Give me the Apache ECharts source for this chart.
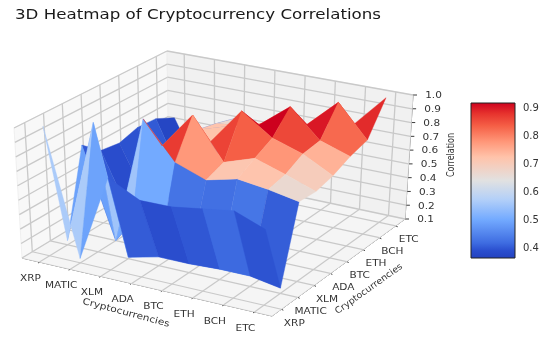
<!DOCTYPE html>
<html><head><meta charset="utf-8">
<style>html,body{margin:0;padding:0;background:#fff}#c{width:550px;height:338px}#c canvas{filter:blur(0.35px)}</style>
<script src="https://cdn.jsdelivr.net/npm/echarts@6/dist/echarts.min.js"></script>
</head><body><div id="c"></div>
<script>
const categories = ['XRP','MATIC','XLM','ADA','BTC','ETH','BCH','ETC'];
const zTicks = [0.1,0.2,0.3,0.4,0.5,0.6,0.7,0.8,0.9,1.0];
const colorTicks = [0.4,0.5,0.6,0.7,0.8,0.9];
const rowXRP   = [1.00,0.13,0.73,0.62,0.62,0.65,0.68,0.60];
const rowMATIC = [0.13,1.00,0.11,0.16,0.16,0.17,0.17,0.135];
const rowXLM   = [0.73,0.10,1.00,0.74,0.66,0.71,0.68,0.64];
const rowADA   = [0.62,0.16,0.74,1.00,0.71,0.78,0.71,0.635];
const rowBTC   = [0.60,0.17,0.66,0.74,1.00,0.85,0.78,0.67];
const rowETH   = [0.64,0.17,0.71,0.78,0.83,1.00,0.80,0.73];
const rowBCH   = [0.63,0.17,0.68,0.71,0.78,0.80,1.00,0.77];
const rowETC   = [0.56,0.135,0.64,0.635,0.67,0.73,0.77,1.00];
const matrix = [rowXRP,rowMATIC,rowXLM,rowADA,rowBTC,rowETH,rowBCH,rowETC];
const colorMin = 0.364, colorMax = 0.918;

const rampStops = [0,0.05,0.1,0.25,0.38,0.5,0.65,0.75,0.85,0.93,1];
const rampColors = [[35,65,190],[42,78,206],[62,108,225],[115,170,255],[180,208,248],[225,225,225],[255,195,170],[255,150,120],[245,95,70],[230,50,45],[205,0,30]];
function cmap(t){t=Math.max(0,Math.min(1,t));let k=0;while(k<rampStops.length-2&&t>rampStops[k+1])k++;
  const f=(t-rampStops[k])/(rampStops[k+1]-rampStops[k]);
  const c=rampColors[k].map((v,n)=>Math.round(v+(rampColors[k+1][n]-v)*f));return `rgb(${c[0]},${c[1]},${c[2]})`;}

// The 3D box, as it sits on the page: bottom and top corners
const box = {L:[22,258],B:[272,316],R:[405,219],K:[169,169],TL:[14,128],TB:[275,178],TR:[413,95],TK:[167,51]};
const zLo = 0.1, zHi = 1.0, inset = 0.07;
const lerp=(a,b,t)=>[a[0]+(b[0]-a[0])*t,a[1]+(b[1]-a[1])*t];
function proj(u,v,w){
  const f=lerp(lerp(box.L,box.B,u),lerp(box.K,box.R,u),v);
  const t=lerp(lerp(box.TL,box.TB,u),lerp(box.TK,box.TR,u),v);
  return lerp(f,t,w);
}
const ui=i=>inset+(1-2*inset)*i/(categories.length-1);
const wz=z=>(z-zLo)/(zHi-zLo);
const depth=(u,v,w)=>u*0.433-v*0.75+w*0.375;

// Faces in far-to-near order
const faces=[];
for(let j=0;j<7;j++)for(let i=0;i<7;i++){
  const zs=[matrix[j][i],matrix[j][i+1],matrix[j+1][i+1],matrix[j+1][i]];
  const avg=zs.reduce((a,b)=>a+b)/4;
  const d=depth(ui(i+.5),ui(j+.5),wz(avg));
  faces.push([i,j,avg,d]);
}
faces.sort((a,b)=>a[3]-b[3]);

function faceItem(params,api){
  const i=api.value(0),j=api.value(1),avg=api.value(2);
  const pts=[[i,j],[i+1,j],[i+1,j+1],[i,j+1]].map(([a,b])=>api.coord(proj(ui(a),ui(b),wz(matrix[b][a]))));
  const col=cmap((avg-colorMin)/(colorMax-colorMin));
  return {type:'polygon',shape:{points:pts},style:{fill:col,stroke:col,lineWidth:0.4}};
}

const paneFill={left:'#f8f8f8',back:'#f1f1f1',floor:'#f5f5f5'};
const gridColor='#c9c9c9';
function line(api,a,b,color,w){const p=api.coord(a),q=api.coord(b);
  return {type:'line',shape:{x1:p[0],y1:p[1],x2:q[0],y2:q[1]},style:{stroke:color,lineWidth:w}};}
function poly(api,ps,fill){return {type:'polygon',shape:{points:ps.map(p=>api.coord(p))},style:{fill:fill,stroke:'#ececec',lineWidth:0.8}};}
function backdrop(params,api){
  const ch=[];
  ch.push(poly(api,[proj(0,0,0),proj(0,1,0),proj(0,1,1),proj(0,0,1)],paneFill.left));
  ch.push(poly(api,[proj(0,1,0),proj(1,1,0),proj(1,1,1),proj(0,1,1)],paneFill.back));
  ch.push(poly(api,[proj(0,0,0),proj(1,0,0),proj(1,1,0),proj(0,1,0)],paneFill.floor));
  categories.forEach((c,i)=>{
    const t=ui(i);
    ch.push(line(api,proj(t,0,0),proj(t,1,0),gridColor,1.2));
    ch.push(line(api,proj(0,t,0),proj(1,t,0),gridColor,1.2));
    ch.push(line(api,proj(t,1,0),proj(t,1,1),gridColor,1.3));
    ch.push(line(api,proj(0,t,0),proj(0,t,1),gridColor,1.3));
  });
  zTicks.forEach(z=>{const w=wz(z);
    ch.push(line(api,proj(0,0,w),proj(0,1,w),gridColor,1.3));
    ch.push(line(api,proj(0,1,w),proj(1,1,w),gridColor,1.3));
  });
  return {type:'group',children:ch};
}
const axisColor='#3c3c3c', textColor='#333';
function label(api,p,text,size,rot,sx,sy){const q=api.coord(p);
  return {type:'text',x:q[0],y:q[1],rotation:rot||0,scaleX:sx||1.17,scaleY:sy||1,
    style:{text:text,x:0,y:0,align:'center',verticalAlign:'middle',fontFamily:'DejaVu Sans',fontSize:size||9,fill:textColor}};}
function axes(params,api){
  const ch=[];
  ch.push(line(api,proj(0,0,0),proj(1,0,0),axisColor,1));
  ch.push(line(api,proj(1,0,0),proj(1,1,0),axisColor,1));
  ch.push(line(api,proj(1,1,0),proj(1,1,1),axisColor,1));
  categories.forEach((c,i)=>{
    const t=ui(i);
    const a=proj(t,0,0), b=proj(1,t,0);
    ch.push(line(api,[a[0]-1.5,a[1]+1],[a[0]+1.5,a[1]-1],axisColor,1));
    ch.push(line(api,[b[0]-2,b[1]-1],[b[0]+2,b[1]+1],axisColor,1));
    ch.push(label(api,[a[0]-9,a[1]+16.5],c));
    ch.push(label(api,[b[0]+13,b[1]+14],c));
  });
  zTicks.forEach(z=>{
    const p=proj(1,1,wz(z));
    ch.push(line(api,[p[0]-3,p[1]],[p[0]+4,p[1]],axisColor,1));
    ch.push(label(api,[p[0]+20.5,p[1]+1],z.toFixed(1)));
  });
  ch.push(label(api,[126,313],'Cryptocurrencies',9,-0.26));
  ch.push(label(api,[369,289],'Cryptocurrencies',9,0.62,1.05));
  ch.push(label(api,[451,155],'Correlation',8,Math.PI/2,1,1.25));
  return {type:'group',children:ch};
}
function colorBar(params,api){
  const a=api.coord([0,colorMax]),b=api.coord([1,colorMin]);
  const stops=rampStops.map((s,k)=>({offset:1-s,color:`rgb(${rampColors[k].join(',')})`})).reverse();
  return {type:'rect',shape:{x:a[0],y:a[1],width:b[0]-a[0],height:b[1]-a[1]},
    style:{fill:new echarts.graphic.LinearGradient(0,0,0,1,stops),stroke:'#222',lineWidth:1}};
}
const one=[[0]];
const chart=echarts.init(document.getElementById('c'),null,{renderer:'canvas'});
chart.setOption({
  animation:false,
  backgroundColor:'#fff',
  graphic:[{type:'text',left:15,top:8,scaleX:1.19,silent:true,
    style:{text:'3D Heatmap of Cryptocurrency Correlations',fontFamily:'DejaVu Sans',fontSize:14,fill:'#1a1a1a'}}],
  grid:[{left:0,top:0,width:550,height:338,show:false},{left:471,top:103,width:44,height:155,show:false}],
  xAxis:[{type:'value',min:0,max:550,show:false,gridIndex:0},{type:'value',min:0,max:1,show:false,gridIndex:1}],
  yAxis:[{type:'value',min:0,max:338,inverse:true,show:false,gridIndex:0},
    {type:'value',min:colorMin,max:colorMax,position:'right',gridIndex:1,
     axisLine:{show:false},splitLine:{show:false},
     axisTick:{show:true,length:3,lineStyle:{color:axisColor},customValues:colorTicks},
     axisLabel:{margin:8,fontFamily:'DejaVu Sans',fontSize:10,color:textColor,customValues:colorTicks,formatter:v=>v.toFixed(1)}}],
  series:[
    {type:'custom',xAxisIndex:0,yAxisIndex:0,coordinateSystem:'cartesian2d',silent:true,clip:false,renderItem:backdrop,data:one},
    {type:'custom',xAxisIndex:0,yAxisIndex:0,coordinateSystem:'cartesian2d',silent:true,clip:false,renderItem:axes,data:one,z:1},
    {type:'custom',xAxisIndex:0,yAxisIndex:0,coordinateSystem:'cartesian2d',silent:true,clip:false,renderItem:faceItem,data:faces,z:3,encode:{x:0,y:1}},
    {type:'custom',xAxisIndex:1,yAxisIndex:1,coordinateSystem:'cartesian2d',silent:true,clip:false,renderItem:colorBar,data:one,z:3}
  ]
});
</script></body></html>
